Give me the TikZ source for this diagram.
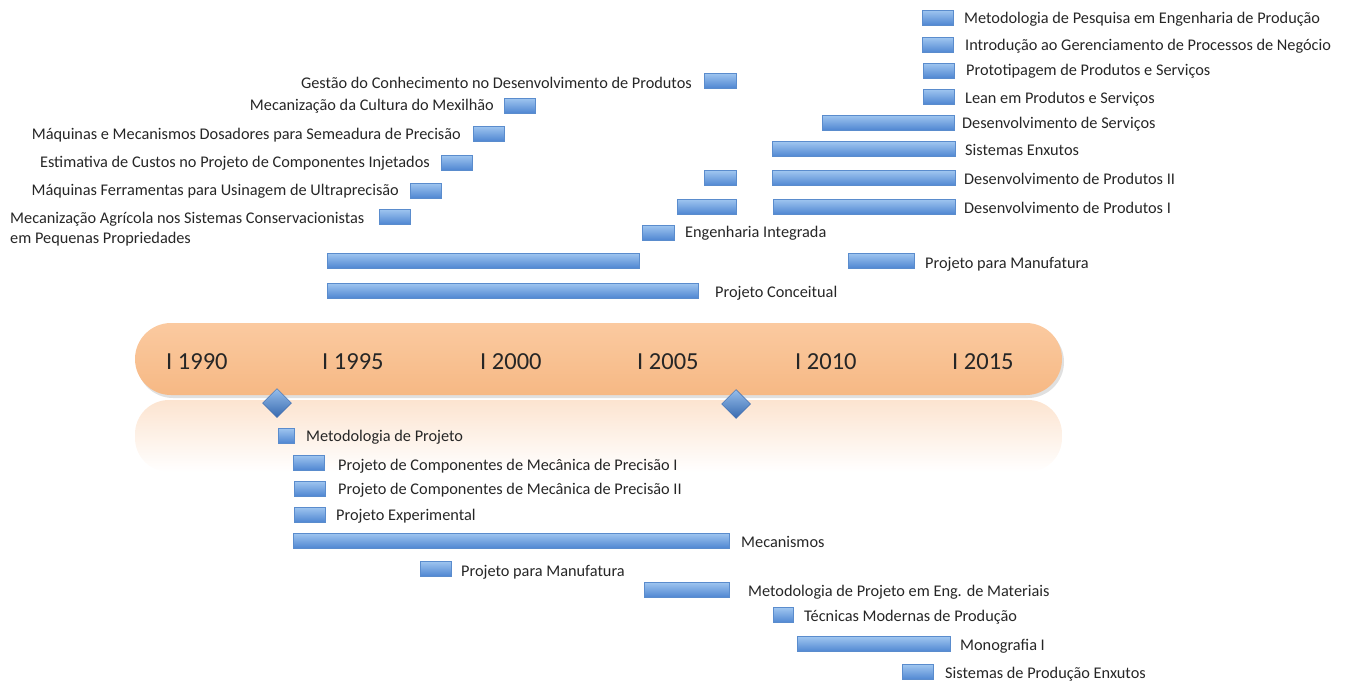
\documentclass[tikz,border=0pt]{standalone}
\usepackage{fontspec}
\setmainfont{Carlito}
\usetikzlibrary{shapes.geometric}
\definecolor{bartop}{RGB}{160,198,240}
\definecolor{barbot}{RGB}{80,135,210}
\definecolor{baredge}{RGB}{90,140,205}
\definecolor{bandtop}{RGB}{251,202,160}
\definecolor{bandbot}{RGB}{246,184,132}
\definecolor{refl}{RGB}{252,228,208}
\definecolor{dtop}{RGB}{150,190,235}
\definecolor{dbot}{RGB}{55,105,175}
\tikzset{
  bar/.style={draw=baredge, line width=0.6pt, top color=bartop, bottom color=barbot, minimum height=15pt, inner sep=0pt},
  lab/.style={font=\fontsize{16.3}{19}\selectfont, text=black!85, inner sep=0pt, yshift=-1.5pt},
  year/.style={font=\fontsize{24.5}{28}\selectfont, text=black!85, inner sep=0pt, anchor=west},
  gem/.style={diamond, shape aspect=1, minimum size=29pt, inner sep=0pt, draw=dbot, line width=0.5pt, top color=dtop, bottom color=dbot}
}
\newcommand\tlbar[4]{\node[bar, minimum width={(#3-#2)*1pt}] (#1) at ({(#2+#3)/2},#4) {};}
\newcommand\tlab[4]{\node[lab, anchor=#2] (#1) at (#3) {#4};}
\begin{document}
\begin{tikzpicture}[x=1pt,y=-1pt]
\useasboundingbox (0,0) rectangle (1349,681);
% reflection
\shade[top color=refl, bottom color=white, rounded corners=34pt] (135,400) rectangle (1062,472);
% band shadow
\fill[black!12, rounded corners=36pt] (137,326) rectangle (1064,398);
\node[draw=none, top color=bandtop, bottom color=bandbot, rounded corners=36pt, minimum width=927pt, minimum height=72pt, inner sep=0pt] (band) at (598.5,359) {};
% years
\node[year] (y1990) at (166,362) {I 1990};
\node[year] (y1995) at (322,362) {I 1995};
\node[year] (y2000) at (480,362) {I 2000};
\node[year] (y2005) at (637,362) {I 2005};
\node[year] (y2010) at (795,362) {I 2010};
\node[year] (y2015) at (952,362) {I 2015};
% diamonds
\node[gem] (d1) at (277,403) {};
\node[gem] (d2) at (736,404) {};
% top right
\tlbar{r1}{922}{953}{17.5}  \tlab{l1}{west}{964,17.5}{Metodologia de Pesquisa em Engenharia de Produção}
\tlbar{r2}{922}{953}{45}    \tlab{l2}{west}{965,45}{Introdução ao Gerenciamento de Processos de Negócio}
\tlbar{r3}{923}{954}{70.5}  \tlab{l3}{west}{966,70}{Prototipagem de Produtos e Serviços}
\tlbar{r4}{923}{954}{96.5}  \tlab{l4}{west}{965,98}{Lean em Produtos e Serviços}
\tlbar{r5}{822}{954}{122.5} \tlab{l5}{west}{962,123}{Desenvolvimento de Serviços}
\tlbar{r6}{772}{955}{149}   \tlab{l6}{west}{965,148}{Sistemas Enxutos}
\tlbar{r7}{772}{955}{178}   \tlab{l7}{west}{964,177}{Desenvolvimento de Produtos II}
\tlbar{r7b}{704}{736}{178}
\tlbar{r8}{773}{955}{206.5} \tlab{l8}{west}{964,206}{Desenvolvimento de Produtos I}
\tlbar{r8b}{677}{736}{206.5}
\tlbar{r9}{642}{674}{232.5} \tlab{l9}{west}{685,232}{Engenharia Integrada}
\tlbar{r10}{848}{914}{260.5} \tlab{l10}{west}{925,263}{Projeto para Manufatura}
\tlbar{r11}{327}{639}{260.5}
\tlbar{r12}{327}{698}{290.5} \tlab{l12}{west}{715,292}{Projeto Conceitual}
% top left
\tlbar{a1}{704}{736}{80.5}  \tlab{m1}{east}{692,81}{Gestão do Conhecimento no Desenvolvimento de Produtos}
\tlbar{a2}{504}{535}{105.5} \tlab{m2}{east}{494,105}{Mecanização da Cultura do Mexilhão}
\tlbar{a3}{473}{504}{133.5} \tlab{m3}{east}{461,134}{Máquinas e Mecanismos Dosadores para Semeadura de Precisão}
\tlbar{a4}{441}{472}{162.5} \tlab{m4}{east}{430,162}{Estimativa de Custos no Projeto de Componentes Injetados}
\tlbar{a5}{410}{441}{190.5} \tlab{m5}{east}{399,190}{Máquinas Ferramentas para Usinagem de Ultraprecisão}
\tlbar{a6}{379}{410}{216.5}
\node[lab, anchor=north west, align=left, font=\fontsize{16.3}{20.5}\selectfont] (m6) at (10,210) {Mecanização Agrícola nos Sistemas Conservacionistas\\em Pequenas Propriedades};
% bottom
\tlbar{c1}{278}{294}{435.5} \tlab{n1}{west}{306,436}{Metodologia de Projeto}
\tlbar{c2}{293}{324}{462.5} \tlab{n2}{west}{338,465}{Projeto de Componentes de Mecânica de Precisão I}
\tlbar{c3}{294}{325}{488.5} \tlab{n3}{west}{338,489}{Projeto de Componentes de Mecânica de Precisão II}
\tlbar{c4}{294}{325}{514.5} \tlab{n4}{west}{336,515}{Projeto Experimental}
\tlbar{c5}{293}{729}{540.5} \tlab{n5}{west}{741,540}{Mecanismos}
\tlbar{c6}{420}{451}{568.5} \tlab{n6}{west}{461,571}{Projeto para Manufatura}
\tlbar{c7}{644}{729}{589.5} \tlab{n7}{west}{748,591}{Metodologia de Projeto em Eng. de Materiais}
\tlbar{c8}{773}{793}{615}   \tlab{n8}{west}{804,616}{Técnicas Modernas de Produção}
\tlbar{c9}{797}{950}{644}   \tlab{n9}{west}{960,645}{Monografia I}
\tlbar{c10}{902}{933}{672}  \tlab{n10}{west}{945,673}{Sistemas de Produção Enxutos}
\end{tikzpicture}
\end{document}
